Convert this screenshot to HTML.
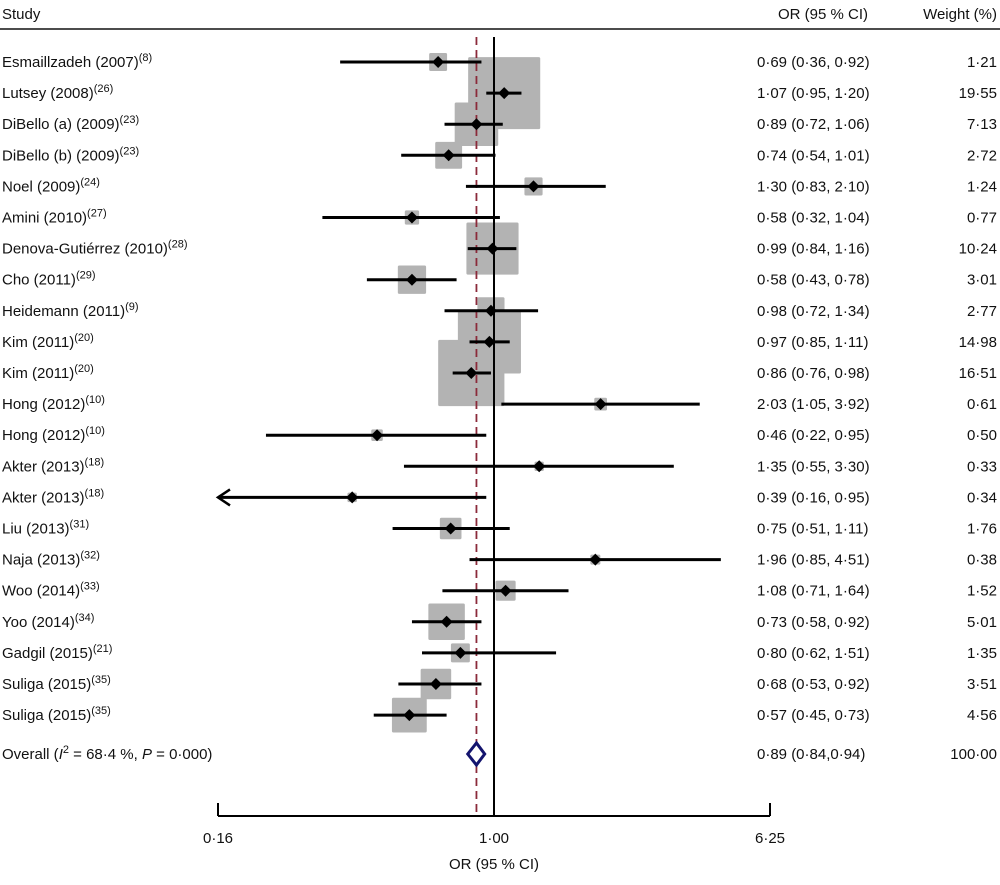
<!DOCTYPE html>
<html><head><meta charset="utf-8"><style>
body{margin:0;background:#fff;}
svg text{font-family:"Liberation Sans",sans-serif;font-size:15px;fill:#111;}
</style></head><body>
<svg id="chart" width="1000" height="880" xmlns="http://www.w3.org/2000/svg">
<g id="bg"></g>
<g id="marks"></g>
<g id="labels"></g>
</svg>
<script>
const studies=["Esmaillzadeh (2007)","Lutsey (2008)","DiBello (a) (2009)","DiBello (b) (2009)","Noel (2009)","Amini (2010)","Denova-Gutiérrez (2010)","Cho (2011)","Heidemann (2011)","Kim (2011)","Kim (2011)","Hong (2012)","Hong (2012)","Akter (2013)","Akter (2013)","Liu (2013)","Naja (2013)","Woo (2014)","Yoo (2014)","Gadgil (2015)","Suliga (2015)","Suliga (2015)"];
const refs=["8","26","23","23","24","27","28","29","9","20","20","10","10","18","18","31","32","33","34","21","35","35"];
const orVals=[0.69,1.07,0.89,0.74,1.30,0.58,0.99,0.58,0.98,0.97,0.86,2.03,0.46,1.35,0.39,0.75,1.96,1.08,0.73,0.80,0.68,0.57];
const lowVals=[0.36,0.95,0.72,0.54,0.83,0.32,0.84,0.43,0.72,0.85,0.76,1.05,0.22,0.55,0.16,0.51,0.85,0.71,0.58,0.62,0.53,0.45];
const highVals=[0.92,1.20,1.06,1.01,2.10,1.04,1.16,0.78,1.34,1.11,0.98,3.92,0.95,3.30,0.95,1.11,4.51,1.64,0.92,1.51,0.92,0.73];
const weights=[1.21,19.55,7.13,2.72,1.24,0.77,10.24,3.01,2.77,14.98,16.51,0.61,0.50,0.33,0.34,1.76,0.38,1.52,5.01,1.35,3.51,4.56];
const overall=[0.89,0.84,0.94];
const tickVals=[0.16,1.00,6.25];
const tickLabels=["0·16","1·00","6·25"];

const NS="http://www.w3.org/2000/svg";
const x0=218,x1=770,vmin=0.16,vmax=6.25;
function xs(v){return x0+(Math.log(v)-Math.log(vmin))/(Math.log(vmax)-Math.log(vmin))*(x1-x0);}
function ys(i){return 62+i*31.1;}
function fmt(v){return v.toFixed(2).replace('.','·');}
function el(tag,attrs,parent){const e=document.createElementNS(NS,tag);for(const k in attrs)e.setAttribute(k,attrs[k]);parent.appendChild(e);return e;}
const bg=document.getElementById('bg'),marks=document.getElementById('marks'),labels=document.getElementById('labels');

let t=el('text',{x:2,y:19,'font-size':16},labels);t.textContent="Study";


t=el('text',{x:778,y:19},labels);t.textContent="OR (95 % CI)";


t=el('text',{x:997,y:19,'text-anchor':'end'},labels);t.textContent="Weight (%)";


let ln=el('line',{x1:0,x2:1000,y1:29,y2:29,stroke:'#111','stroke-width':1.5},bg);



studies.forEach((s,i)=>{
  const side=16.3*Math.sqrt(weights[i]);
  const r=el('rect',{x:xs(orVals[i])-side/2,y:ys(i)-side/2,width:side,height:side,fill:'#b3b3b3',rx:1.5},bg);
  
  
});
ln=el('line',{x1:xs(1),x2:xs(1),y1:37,y2:816,stroke:'#000','stroke-width':2},bg);


ln=el('line',{x1:xs(overall[0]),x2:xs(overall[0]),y1:37,y2:816,stroke:'#8b2a3a','stroke-width':1.8,'stroke-dasharray':'8,5'},bg);



studies.forEach((s,i)=>{
  const y=ys(i);
  let lo=lowVals[i],clipped=lo<vmin*1.001;
  const lx=clipped?x0:xs(lo);
  const c=el('line',{x1:lx,x2:xs(highVals[i]),y1:y,y2:y,stroke:'#000','stroke-width':3},marks);
  
  
  if(clipped){
    const a=el('polyline',{points:`${x0+12},${y-8} ${x0},${y} ${x0+12},${y+8}`,fill:'none',stroke:'#000','stroke-width':2.5},marks);
    
    
  }
  const cx=xs(orVals[i]);
  const d=el('polygon',{points:`${cx-6},${y} ${cx},${y-6} ${cx+6},${y} ${cx},${y+6}`,fill:'#000'},marks);
  
  
  const lt=el('text',{x:2,y:y+5},labels);
  
  
  lt.textContent=s;
  const sup=el('tspan',{dy:-6,'font-size':11},lt);sup.textContent="("+refs[i]+")";
  const ot=el('text',{x:757,y:y+5},labels);
  
  
  ot.textContent=`${fmt(orVals[i])} (${fmt(lowVals[i])}, ${fmt(highVals[i])})`;
  const wt=el('text',{x:997,y:y+5,'text-anchor':'end'},labels);
  
  
  wt.textContent=fmt(weights[i]);
});
const oy=754;
const dm=el('polygon',{points:`${xs(overall[1])},${oy} ${xs(overall[0])},${oy-11} ${xs(overall[2])},${oy} ${xs(overall[0])},${oy+11}`,fill:'#fff',stroke:'#14146e','stroke-width':3},marks);


const ol=el('text',{x:2,y:oy+5},labels);


ol.innerHTML='Overall (<tspan font-style="italic">I</tspan><tspan dy="-6" font-size="11">2</tspan><tspan dy="6"> = 68·4 %, </tspan><tspan font-style="italic">P</tspan> = 0·000)';
t=el('text',{x:757,y:oy+5},labels);t.textContent="0·89 (0·84,0·94)";


t=el('text',{x:997,y:oy+5,'text-anchor':'end'},labels);t.textContent="100·00";



ln=el('line',{x1:x0,x2:x1,y1:816,y2:816,stroke:'#000','stroke-width':2},bg);


tickVals.forEach((v,i)=>{
  const tk=el('line',{x1:xs(v),x2:xs(v),y1:803,y2:816,stroke:'#000','stroke-width':2},bg);
  
  
  const tl=el('text',{x:xs(v),y:843,'text-anchor':'middle'},labels);
  
  
  tl.textContent=tickLabels[i];
});
t=el('text',{x:xs(1),y:869,'text-anchor':'middle'},labels);t.textContent="OR (95 % CI)";


</script>
</body></html>
